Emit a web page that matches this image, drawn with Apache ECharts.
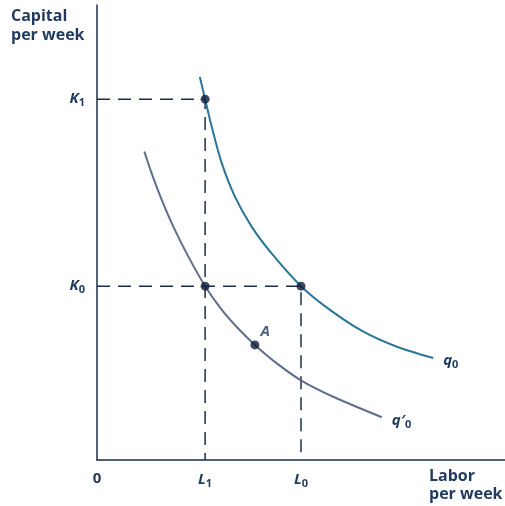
<!DOCTYPE html>
<html>
<head>
<meta charset="utf-8">
<script src="https://cdn.jsdelivr.net/npm/echarts@6/dist/echarts.min.js"></script>
<style>
html, body { margin: 0; padding: 0; background: #fff; }
#chart { width: 505px; height: 506px; }
</style>
</head>
<body>
<div id="chart"></div>
<script>
// isoquant q0 (labor, capital)
var q0_x = [25.2, 26.5, 28.1, 30.6, 33.8, 37.9, 42.8, 50.0, 57.1, 65.3, 73.5, 82.4];
var q0_y = [84.2, 79.3, 73.3, 65.2, 57.9, 51.3, 45.4, 38.2, 33.0, 28.2, 24.9, 22.4];
// isoquant q'0
var q1_x = [11.6, 13.4, 15.9, 18.7, 22.4, 26.5, 30.6, 34.6, 38.7, 44.0, 50.2, 57.9, 69.8];
var q1_y = [67.8, 63.0, 57.1, 51.3, 44.7, 38.2, 33.0, 28.9, 25.3, 21.3, 17.4, 13.9, 9.4];

// marked points
var dot_x = [26.5, 26.5, 50.0, 38.7];
var dot_y = [79.3, 38.2, 38.2, 25.3];

// tick positions
var L1 = 26.5, L0 = 50.0;
var K1 = 79.3, K0 = 38.2;

var ink = '#1c2d4c';
var txt = '#1f3a5e';
var fontFam = '"Open Sans", "Noto Sans", sans-serif';

function pairs(xs, ys) {
    return xs.map(function (x, i) { return [x, ys[i]]; });
}

var richSub = {
    i: { fontStyle: 'italic', fontWeight: 'bold', fontSize: 15, color: txt, fontFamily: fontFam },
    s: { fontWeight: 'bold', fontSize: 11, color: txt, fontFamily: fontFam, padding: [7, 0, 0, 0] },
    n: { fontWeight: 'bold', fontSize: 15, color: txt, fontFamily: fontFam }
};

var dash = { color: ink, width: 1.5, type: [13, 8] };

var chart = echarts.init(document.getElementById('chart'));

chart.setOption({
    animation: false,
    grid: { left: 97, right: 0, top: 5, bottom: 46, containLabel: false },
    xAxis: {
        type: 'value', min: 0, max: 100,
        splitLine: { show: false },
        axisLine: { lineStyle: { color: ink, width: 1.5 } },
        axisTick: { show: false },
        axisLabel: {
            customValues: [0, L1, L0],
            margin: 11,
            formatter: function (v) {
                if (v === 0) return '{n|0}';
                if (v === L1) return '{i|L}{s|1}';
                return '{i|L}{s|0}';
            },
            rich: richSub
        }
    },
    yAxis: {
        type: 'value', min: 0, max: 100,
        splitLine: { show: false },
        axisLine: { show: true, lineStyle: { color: ink, width: 1.5 } },
        axisTick: { show: false },
        axisLabel: {
            customValues: [K0, K1],
            margin: 12,
            formatter: function (v) {
                return v === K1 ? '{i|K}{s|1}' : '{i|K}{s|0}';
            },
            rich: richSub
        }
    },
    graphic: [
        {
            type: 'text', left: 11, top: 7,
            style: { text: 'Capital\nper week', fill: txt, font: 'bold 16px ' + fontFam, lineHeight: 19 }
        },
        {
            type: 'text', left: 429, top: 467,
            style: { text: 'Labor\nper week', fill: txt, font: 'bold 16px ' + fontFam, lineHeight: 18 }
        }
    ],
    series: [
        {
            type: 'line', data: [[0, K1], [L1, K1], [L1, 0]],
            symbol: 'none', lineStyle: dash, z: 1
        },
        {
            type: 'line', data: [[0, K0], [L0, K0], [L0, 0]],
            symbol: 'none', lineStyle: dash, z: 1
        },
        {
            type: 'line', data: pairs(q0_x, q0_y), smooth: 0.3,
            symbol: 'none', lineStyle: { color: '#2a7699', width: 2 }, z: 2,
            endLabel: {
                show: true, formatter: '{i|q}{s|0}', rich: richSub, distance: 10, offset: [0, 3]
            }
        },
        {
            type: 'line', data: pairs(q1_x, q1_y), smooth: 0.3,
            symbol: 'none', lineStyle: { color: '#5d6f8d', width: 2 }, z: 2,
            endLabel: {
                show: true, formatter: '{i|q′}{s|0}', rich: richSub, distance: 10, offset: [0, 4]
            }
        },
        {
            type: 'scatter', data: pairs(dot_x, dot_y),
            symbolSize: 9, itemStyle: { color: '#0d1c38' }, z: 3,
            label: {
                show: true, position: [10, -16],
                formatter: function (p) { return p.dataIndex === 3 ? '{i|A}' : ''; },
                rich: richSub
            }
        }
    ]
});
</script>
</body>
</html>
